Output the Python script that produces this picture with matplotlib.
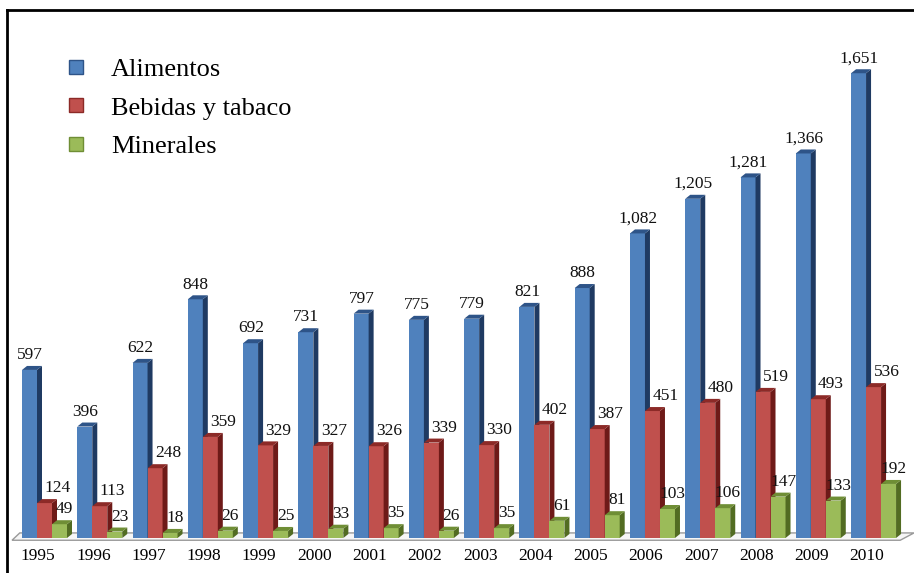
import matplotlib.pyplot as plt
from matplotlib.patches import Polygon
from matplotlib.lines import Line2D

# Datos
anios = [str(a) for a in range(1995, 2011)]
alimentos = [597, 396, 622, 848, 692, 731, 797, 775, 779, 821, 888, 1082, 1205, 1281, 1366, 1651]
bebidas = [124, 113, 248, 359, 329, 327, 326, 339, 330, 402, 387, 451, 480, 519, 493, 536]
minerales = [49, 23, 18, 26, 25, 33, 35, 26, 35, 61, 81, 103, 106, 147, 133, 192]
nombres = ['Alimentos', 'Bebidas y tabaco', 'Minerales']

# Estilo
plt.rcParams['font.family'] = ['Liberation Serif', 'DejaVu Serif']
colores = [('#4F81BD', '#1F3A62', '#2E5488'),
           ('#C0504D', '#6E1A18', '#8C2A27'),
           ('#9BBB59', '#526C22', '#6F8E35')]

W, H = 914, 573
fig = plt.figure(figsize=(W / 100, H / 100), dpi=100)
ax = fig.add_axes([0, 0, 1, 1])
ax.set_axis_off()

# escala: 55.27 px por grupo, 0.2815 px por unidad
px_x, px_y = 55.27, 0.2815
x0, y0 = 38, 538
ax.set_xlim(-x0 / px_x, (W - x0) / px_x)
ax.set_ylim(-(H - y0) / px_y, y0 / px_y)

ancho = 15 / px_x
dx, dy = 5 / px_x, 4 / px_y
inicio = -16 / px_x
x = list(range(len(anios)))

# Piso
piso = Polygon([(-0.47, -8), (15.6, -8), (15.85, 18), (-0.33, 18)],
               closed=True, facecolor='#F6F6F6', edgecolor='#9A9A9A', lw=1, zorder=1)
ax.add_patch(piso)

desp_etq = [-0.15, 0.35, 0.48]
series = [alimentos, bebidas, minerales]
for j, valores in enumerate(series):
    frente, lado, tapa = colores[j]
    pos = [i + inicio + j * ancho for i in x]
    barras = ax.bar(pos, valores, width=ancho, align='edge', color=frente,
                    edgecolor='none')
    for i, (b, v) in enumerate(zip(barras, valores)):
        z = 2 + i * 3 + j
        b.set_zorder(z)
        xl = b.get_x()
        xr = xl + b.get_width()
        ax.add_patch(Polygon([(xr, 0), (xr + dx, dy), (xr + dx, v + dy), (xr, v)],
                             closed=True, facecolor=lado, edgecolor='none', zorder=z))
        ax.add_patch(Polygon([(xl, v), (xr, v), (xr + dx, v + dy), (xl + dx, v + dy)],
                             closed=True, facecolor=tapa, edgecolor='none', zorder=z))
        ax.annotate(f'{v:,}', (i + desp_etq[j], v + dy), xytext=(0, 2),
                    textcoords='offset points', ha='center', va='bottom',
                    fontsize=12.5, color='#111111', zorder=100)

# Etiquetas de años
for i, a in zip(x, anios):
    ax.text(i, -(556 - y0) / px_y, a, ha='center', va='center', fontsize=12.5)

# Leyenda
handles = [Line2D([], [], marker='s', ls='none', markersize=9.5,
                  markerfacecolor=c[0], markeredgecolor=c[2]) for c in colores]
ax.legend(handles, nombres, loc='upper left', bbox_to_anchor=(63 / W, 1 - 58 / H),
          frameon=False, fontsize=19, handletextpad=0.82, labelspacing=0.56,
          borderpad=0, borderaxespad=0, handlelength=1.0)

# Marco
fig.add_artist(Line2D([7 / W, 7 / W], [0, 1 - 10 / H], color='black', lw=2))
fig.add_artist(Line2D([7 / W, 1], [1 - 10 / H, 1 - 10 / H], color='black', lw=2))

plt.savefig('out.png', dpi=100)
